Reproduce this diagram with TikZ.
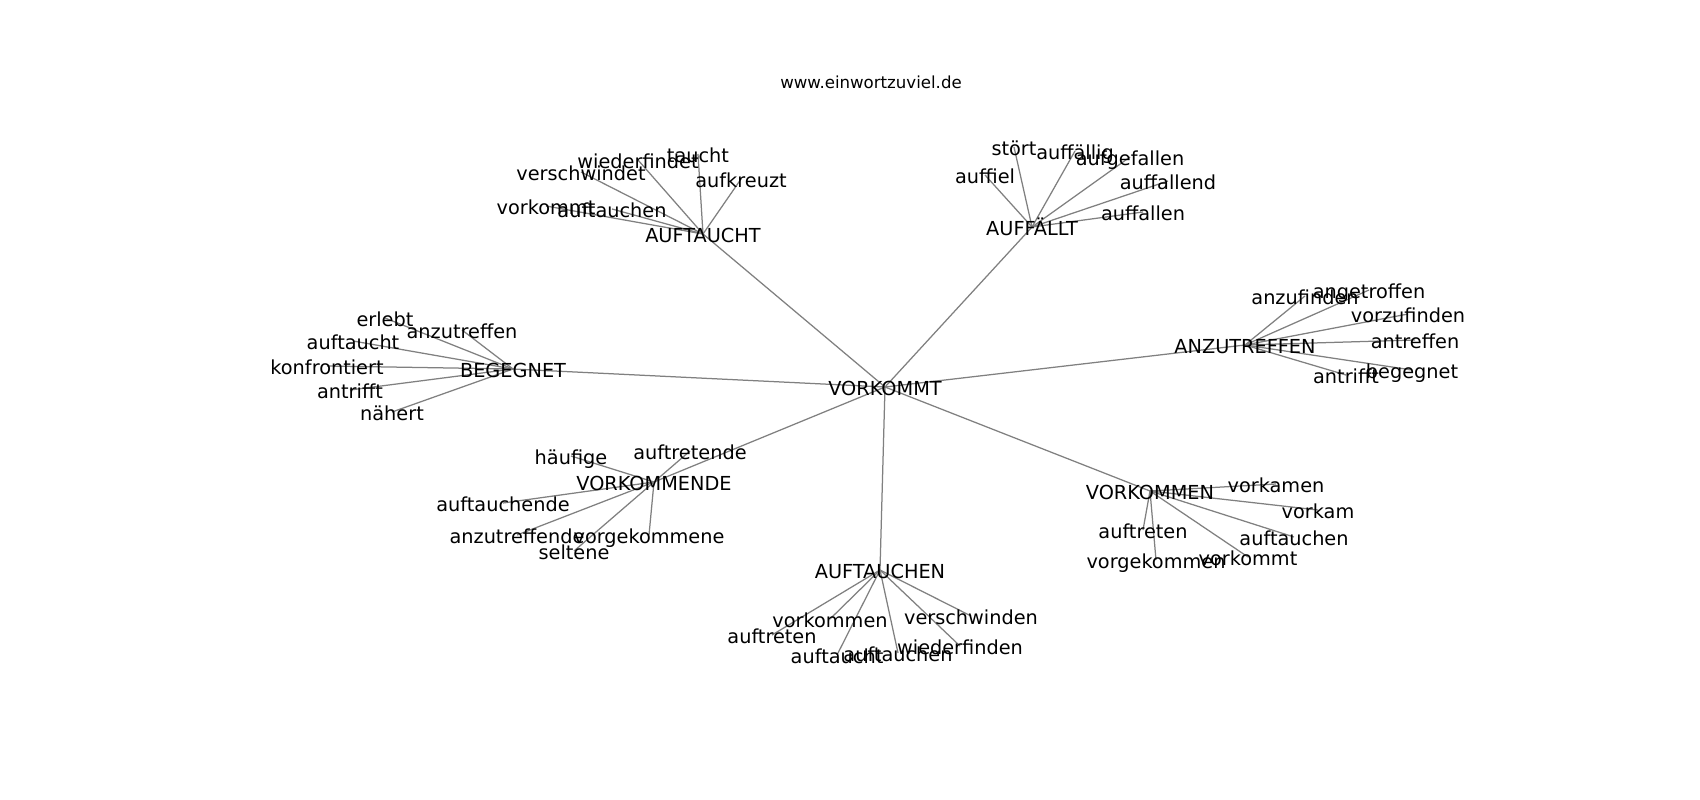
\documentclass[tikz,border=0pt]{standalone}
\usepackage{fontspec}
\setmainfont{DejaVu Sans}
\begin{document}
\begin{tikzpicture}[x=1pt,y=-1pt,
  lbl/.style={inner sep=0pt,anchor=center,yshift=-6pt,font=\fontsize{19.3}{21}\selectfont,text height=0.74em,text depth=0.22em},
  ttl/.style={inner sep=0pt,anchor=center,yshift=-6pt,font=\fontsize{16.6}{18}\selectfont,text height=0.74em,text depth=0.22em},
  edge/.style={draw=gray,line width=1.25pt}]
\useasboundingbox[fill=white] (0,0) rectangle (1700,800);
\begin{scope}[shift={(0,-2)}]
% nodes
\coordinate (c0) at (885,389);
\coordinate (h1) at (703,236);
\coordinate (h2) at (1032,229);
\coordinate (h3) at (513,371);
\coordinate (h4) at (1245,347);
\coordinate (h5) at (654,484);
\coordinate (h6) at (880,572);
\coordinate (h7) at (1150,493);
% leaves AUFTAUCHT
\coordinate (a1) at (638,162);
\coordinate (a2) at (698,156);
\coordinate (a3) at (741,181);
\coordinate (a4) at (581,174);
\coordinate (a5) at (546,208);
\coordinate (a6) at (612,211);
% AUFFAELLT
\coordinate (b1) at (1014,149);
\coordinate (b2) at (1075,153);
\coordinate (b3) at (1130,159);
\coordinate (b4) at (985,177);
\coordinate (b5) at (1168,183);
\coordinate (b6) at (1143,214);
% BEGEGNET
\coordinate (d1) at (385,320);
\coordinate (d2) at (462,332);
\coordinate (d3) at (353,343);
\coordinate (d4) at (327,368);
\coordinate (d5) at (350,392);
\coordinate (d6) at (392,414);
% ANZUTREFFEN
\coordinate (e1) at (1305,298);
\coordinate (e2) at (1369,292);
\coordinate (e3) at (1408,316);
\coordinate (e4) at (1415,342);
\coordinate (e5) at (1412,372);
\coordinate (e6) at (1346,377);
% VORKOMMENDE
\coordinate (f1) at (571,458);
\coordinate (f2) at (690,453);
\coordinate (f3) at (503,505);
\coordinate (f4) at (517,537);
\coordinate (f5) at (649,537);
\coordinate (f6) at (574,553);
% AUFTAUCHEN
\coordinate (g1) at (830,621);
\coordinate (g2) at (772,637);
\coordinate (g3) at (837,657);
\coordinate (g4) at (898,655);
\coordinate (g5) at (971,618);
\coordinate (g6) at (960,648);
% VORKOMMEN
\coordinate (k1) at (1276,486);
\coordinate (k2) at (1318,512);
\coordinate (k3) at (1294,539);
\coordinate (k4) at (1143,532);
\coordinate (k5) at (1156,562);
\coordinate (k6) at (1248,559);
% edges
\foreach \h in {h1,h2,h3,h4,h5,h6,h7} \draw[edge] (c0) -- (\h);
\foreach \l in {a1,a2,a3,a4,a5,a6} \draw[edge] (h1) -- (\l);
\foreach \l in {b1,b2,b3,b4,b5,b6} \draw[edge] (h2) -- (\l);
\foreach \l in {d1,d2,d3,d4,d5,d6} \draw[edge] (h3) -- (\l);
\foreach \l in {e1,e2,e3,e4,e5,e6} \draw[edge] (h4) -- (\l);
\foreach \l in {f1,f2,f3,f4,f5,f6} \draw[edge] (h5) -- (\l);
\foreach \l in {g1,g2,g3,g4,g5,g6} \draw[edge] (h6) -- (\l);
\foreach \l in {k1,k2,k3,k4,k5,k6} \draw[edge] (h7) -- (\l);
% labels
\node[ttl] (title) at (871,82) {www.einwortzuviel.de};
\node[lbl] (n0) at (c0) {VORKOMMT};
\node[lbl] (n1) at (h1) {AUFTAUCHT};
\node[lbl] (n2) at (h2) {AUFFÄLLT};
\node[lbl] (n3) at (h3) {BEGEGNET};
\node[lbl] (n4) at (h4) {ANZUTREFFEN};
\node[lbl] (n5) at (h5) {VORKOMMENDE};
\node[lbl] (n6) at (h6) {AUFTAUCHEN};
\node[lbl] (n7) at (h7) {VORKOMMEN};
\node[lbl] at (a1) {wiederfindet};
\node[lbl] at (a2) {taucht};
\node[lbl] at (a3) {aufkreuzt};
\node[lbl] at (a4) {verschwindet};
\node[lbl] at (a5) {vorkommt};
\node[lbl] at (a6) {auftauchen};
\node[lbl] at (b1) {stört};
\node[lbl] at (b2) {auffällig};
\node[lbl] at (b3) {aufgefallen};
\node[lbl] at (b4) {auffiel};
\node[lbl] at (b5) {auffallend};
\node[lbl] at (b6) {auffallen};
\node[lbl] at (d1) {erlebt};
\node[lbl] at (d2) {anzutreffen};
\node[lbl] at (d3) {auftaucht};
\node[lbl] at (d4) {konfrontiert};
\node[lbl] at (d5) {antrifft};
\node[lbl] at (d6) {nähert};
\node[lbl] at (e1) {anzufinden};
\node[lbl] at (e2) {angetroffen};
\node[lbl] at (e3) {vorzufinden};
\node[lbl] at (e4) {antreffen};
\node[lbl] at (e5) {begegnet};
\node[lbl] at (e6) {antrifft};
\node[lbl] at (f1) {häufige};
\node[lbl] at (f2) {auftretende};
\node[lbl] at (f3) {auftauchende};
\node[lbl] at (f4) {anzutreffende};
\node[lbl] at (f5) {vorgekommene};
\node[lbl] at (f6) {seltene};
\node[lbl] at (g1) {vorkommen};
\node[lbl] at (g2) {auftreten};
\node[lbl] at (g3) {auftaucht};
\node[lbl] at (g4) {auftauchen};
\node[lbl] at (g5) {verschwinden};
\node[lbl] at (g6) {wiederfinden};
\node[lbl] at (k1) {vorkamen};
\node[lbl] at (k2) {vorkam};
\node[lbl] at (k3) {auftauchen};
\node[lbl] at (k4) {auftreten};
\node[lbl] at (k5) {vorgekommen};
\node[lbl] at (k6) {vorkommt};
\end{scope}
\end{tikzpicture}
\end{document}
